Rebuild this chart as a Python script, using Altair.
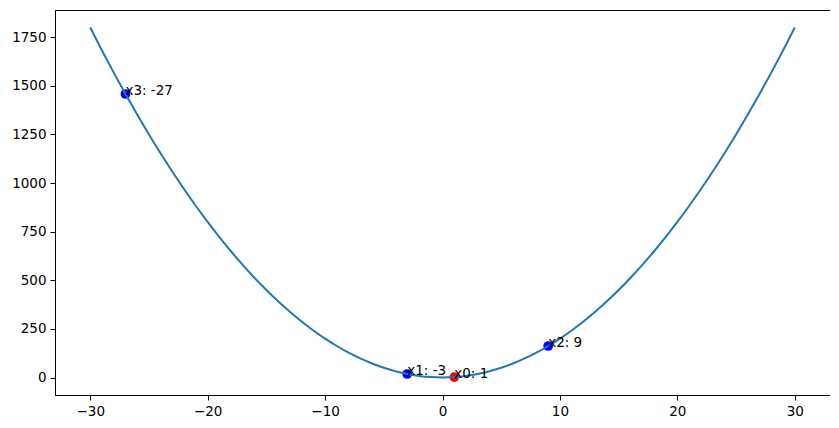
import altair as alt
import pandas as pd

curve_x = list(range(-30, 31))
curve_y = [1800, 1682, 1568, 1458, 1352, 1250, 1152, 1058, 968, 882,
           800, 722, 648, 578, 512, 450, 392, 338, 288, 242,
           200, 162, 128, 98, 72, 50, 32, 18, 8, 2,
           0,
           2, 8, 18, 32, 50, 72, 98, 128, 162, 200,
           242, 288, 338, 392, 450, 512, 578, 648, 722, 800,
           882, 968, 1058, 1152, 1250, 1352, 1458, 1568, 1682, 1800]

pt_x = [1, -3, 9, -27]
pt_y = [2, 18, 162, 1458]
pt_label = ["x0: 1", "x1: -3", "x2: 9", "x3: -27"]
pt_color = ["red", "blue", "blue", "blue"]

curve = pd.DataFrame({"x": curve_x, "y": curve_y})
pts = pd.DataFrame({"x": pt_x, "y": pt_y, "label": pt_label, "color": pt_color})

xs = alt.Scale(domain=[-33, 33], nice=False, zero=False)
ys = alt.Scale(domain=[-90, 1890], nice=False, zero=False)

X = alt.X("x:Q", scale=xs, axis=alt.Axis(values=[-30, -20, -10, 0, 10, 20, 30], format="d", title=None))
Y = alt.Y("y:Q", scale=ys, axis=alt.Axis(values=[0, 250, 500, 750, 1000, 1250, 1500, 1750], format="d", title=None))

points = alt.Chart(pts).mark_circle(size=95, opacity=1).encode(
    x=X, y=Y, color=alt.Color("color:N", scale=None)
)
line = alt.Chart(curve).mark_line(color="#1f77b4", strokeWidth=2, interpolate="monotone").encode(x=X, y=Y)
text = alt.Chart(pts).mark_text(align="left", baseline="alphabetic", dx=0, dy=1,
                                fontSize=13.5, font="DejaVu Sans", color="black").encode(
    x=X, y=Y, text="label:N"
)

chart = alt.layer(points, line, text).properties(
    width=775, height=385,
    autosize=alt.AutoSizeParams(type="none"),
    padding={"left": 47, "top": 2, "right": 0, "bottom": 25},
).configure_view(stroke="black", strokeWidth=1).configure_axis(
    grid=False, domain=True, domainColor="black", tickColor="black", tickSize=5,
    labelFontSize=13.5, labelFont="DejaVu Sans", labelColor="black", labelPadding=4
)

chart.save("out.html", embed_options={"renderer": "svg", "actions": False})
